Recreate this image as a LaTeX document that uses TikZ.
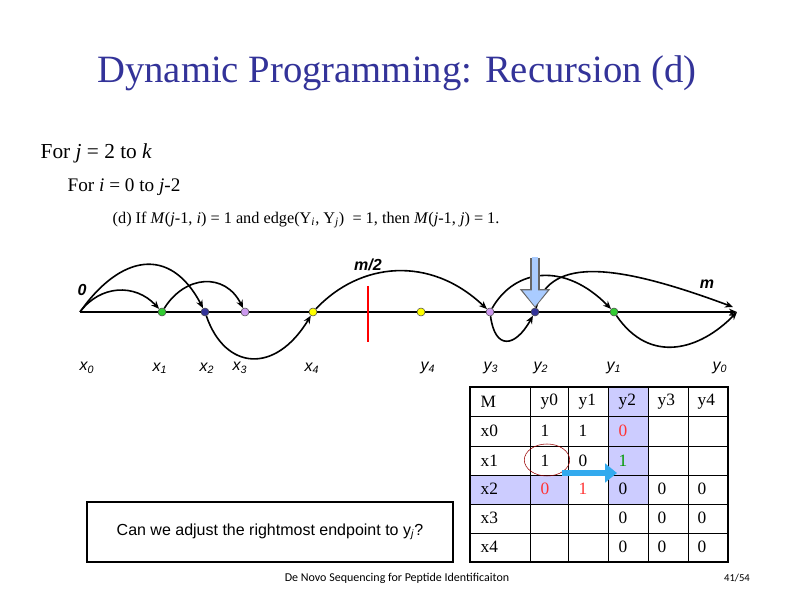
\documentclass[tikz,border=0pt]{standalone}
\usepackage{fontspec}
\setmainfont{Liberation Serif}
\setsansfont{Liberation Sans}
\newfontfamily\footfont{Carlito}
\usetikzlibrary{arrows.meta}
\definecolor{ttl}{HTML}{333399}
\definecolor{lav}{HTML}{CCCCFF}
\definecolor{gdot}{HTML}{33CC33}
\definecolor{ndot}{HTML}{333399}
\definecolor{pdot}{HTML}{CC99EE}
\definecolor{ydot}{HTML}{FFFF00}
\definecolor{arr}{HTML}{33AAEE}
\definecolor{garr}{HTML}{AACCFF}
\begin{document}
\begin{tikzpicture}[x=0.75pt,y=-0.75pt,
  dotn/.style={circle,draw=black!70,inner sep=0pt,minimum size=6pt},
  lab/.style={font=\sffamily\itshape\fontsize{12}{12}\selectfont},
  arc/.style={-{Stealth[length=6pt,width=5pt]},line width=1.2pt},
  cell/.style={font=\fontsize{13}{13}\selectfont,anchor=west}]
\useasboundingbox (0,0) rectangle (794,595);
\node[text=ttl,font=\fontsize{29}{29}\selectfont] (title) at (397,73) {Dynamic Programming: Recursion (d)};
\node[anchor=west,font=\fontsize{16}{16}\selectfont] (l1) at (36,153) {For \textit{j} = 2 to \textit{k}};
\node[anchor=west,font=\fontsize{14.4}{15}\selectfont] (l2) at (63,187) {For \textit{i} = 0 to \textit{j}-2};
\node[anchor=west,font=\fontsize{12.2}{13}\selectfont] (l3) at (108,220) {(d) If \textit{M}(\textit{j}-1, \textit{i}) = 1 and edge(Y\textsubscript{\textit{i}}, Y\textsubscript{\textit{j}}) \ = 1, then \textit{M}(\textit{j}-1, \textit{j}) = 1.};
% number line
\coordinate (s) at (80,312);
\coordinate (e) at (737,312);
\coordinate (me) at (733,307);
\draw[arc] (s) -- (e);
\node[dotn,fill=gdot] (x1) at (162,312) {};
\node[dotn,fill=ndot] (x2) at (205,312) {};
\node[dotn,fill=pdot] (x3) at (245,312) {};
\node[dotn,fill=ydot] (x4) at (313,312) {};
\node[dotn,fill=ydot] (y4) at (421,312) {};
\node[dotn,fill=pdot] (y3) at (490,312) {};
\node[dotn,fill=ndot] (y2) at (535,312) {};
\node[dotn,fill=gdot] (y1) at (614,312) {};
\draw[red,line width=1.5pt] (368,286) -- (368,342);
\draw[arc] (s) .. controls (100,285) and (135,283) .. (x1);
\draw[arc] (s) .. controls (120,255) and (170,245) .. (x2);
\draw[arc] (x1) .. controls (185,275) and (225,272) .. (x3);
\draw[arc] (x2) .. controls (225,370) and (275,375) .. (x4);
\draw[arc] (x4) .. controls (360,262) and (430,255) .. (y3);
\draw[arc] (y3) .. controls (495,350) and (515,348) .. (y2);
\draw[arc] (y3) .. controls (515,268) and (565,262) .. (y1);
\draw[arc] (y2) .. controls (550,255) and (620,265) .. (me);
\draw[arc] (y1) .. controls (650,365) and (700,350) .. (e);
\draw[-{Triangle[length=14pt,width=22pt]},line width=7pt,draw=black!60] (535,258) -- (y2.north);
\draw[-{Triangle[length=12pt,width=18pt]},line width=5pt,draw=garr] (535,257) -- ([yshift=1pt]y2.north);
\node[font=\sffamily\bfseries\itshape\fontsize{12}{12}\selectfont] (mh) at (368,265) {m/2};
\node[font=\sffamily\bfseries\itshape\fontsize{12}{12}\selectfont] (z) at (82,290) {0};
\node[font=\sffamily\bfseries\itshape\fontsize{12}{12}\selectfont] (m) at (707,284) {m};
\node[lab] (lx0) at (87,368) {x\textsubscript{0}};
\node[lab] (lx1) at (160,368) {x\textsubscript{1}};
\node[lab] (lx2) at (207,368) {x\textsubscript{2}};
\node[lab] (lx3) at (240,368) {x\textsubscript{3}};
\node[lab] (lx4) at (312,368) {x\textsubscript{4}};
\node[lab] (ly4) at (428,368) {y\textsubscript{4}};
\node[lab] (ly3) at (491,368) {y\textsubscript{3}};
\node[lab] (ly2) at (541,368) {y\textsubscript{2}};
\node[lab] (ly1) at (614,368) {y\textsubscript{1}};
\node[lab] (ly0) at (720,368) {y\textsubscript{0}};
% table
\fill[lav] (470,475) rectangle (568,504);
\fill[lav] (608,387) rectangle (648,504);
\foreach \yy in {416,446,475,504,533} \draw (470,\yy) -- (728,\yy);
\foreach \xx in {530,568,608,648,688} \draw (\xx,387) -- (\xx,562);
\draw[line width=1.6pt] (470,387) rectangle (728,562);
\foreach \t/\xx/\yy in {M/476/402,y0/536/402,y1/574/402,y2/614/402,y3/653/402,y4/693/402,
  x0/476/431,1/536/431,1/574/431,
  x1/476/461,1/536/461,0/574/461,
  x2/476/489,0/614/489,0/653/489,0/693/489,
  x3/476/518,0/614/518,0/653/518,0/693/518,
  x4/476/547,0/614/547,0/653/547,0/693/547}
  \node[cell] at (\xx,\yy) {\t};
\node[cell,text=red!80] at (614,431) {0};
\node[cell,text=green!60!black] at (614,461) {1};
\node[cell,text=red!80] at (536,489) {0};
\node[cell,text=red!80] at (574,489) {1};
\draw[red!60!black,thin] (547,460) ellipse (17pt and 12pt);
\draw[-{Triangle[length=9pt,width=14pt]},line width=4.5pt,draw=arr] (562,473) -- (617,473);
% bottom
\node[draw,line width=0.8pt,minimum width=274.5pt,minimum height=45pt,font=\sffamily\fontsize{12}{12}\selectfont] (q) at (270,532) {Can we adjust the rightmost endpoint to y\textsubscript{\textit{j}}?};
\node[font=\footfont\fontsize{9}{9}\selectfont] (ft) at (397,578) {De Novo Sequencing for Peptide Identificaiton};
\node[font=\footfont\fontsize{8}{8}\selectfont] (pg) at (737,578) {41/54};
\end{tikzpicture}
\end{document}
